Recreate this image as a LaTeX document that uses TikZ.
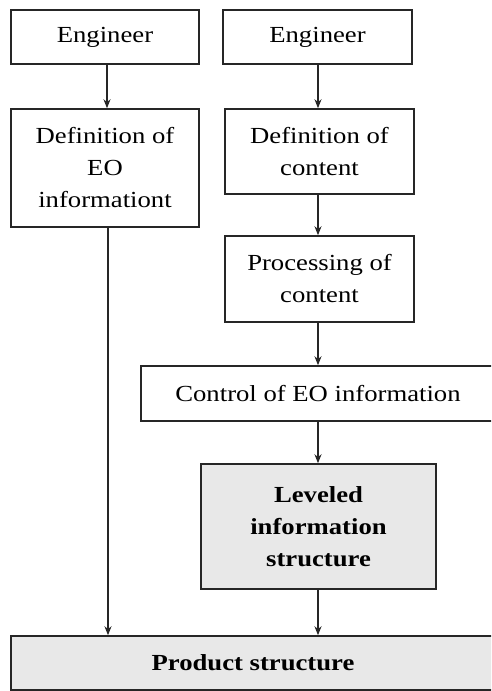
\documentclass[tikz,border=0pt]{standalone}
\usepackage{fontspec}
\setmainfont{Liberation Serif}[FakeStretch=1.16]
\usetikzlibrary{arrows.meta}
\tikzset{
  stepbox/.style={draw=black!85, line width=1.5pt, fill=white, align=center,
    inner sep=0pt, font=\fontsize{23}{32}\selectfont},
  shadedbox/.style={stepbox, fill=black!9, font=\fontsize{23}{32}\selectfont\bfseries},
  flow/.style={draw=black!85, line width=1.5pt, -{Stealth[length=9pt,width=7pt]}}
}
\begin{document}
\begin{tikzpicture}[x=1pt,y=-1pt]
\useasboundingbox (0,0) rectangle (491,691);
\clip (0,0) rectangle (491,691);

% left column
\node[stepbox, minimum width=188pt, minimum height=54pt] (engL) at (105,37) {Engineer};
\node[stepbox, minimum width=188pt, minimum height=118pt] (defEO) at (105,168)
  {Definition of\\EO\\informationt};

% right column
\node[stepbox, minimum width=189pt, minimum height=54pt] (engR) at (317.5,37) {Engineer};
\node[stepbox, minimum width=189pt, minimum height=85pt] (defC) at (319.5,151.5)
  {Definition of\\content};
\node[stepbox, minimum width=189pt, minimum height=86pt] (proc) at (319.5,279)
  {Processing of\\content};
\node[stepbox, minimum width=354pt, minimum height=55pt] (ctrl) at (318,393.5)
  {Control of EO information};
\node[shadedbox, minimum width=235pt, minimum height=125pt] (lev) at (318.5,526.5)
  {Leveled\\information\\structure};

% common target
\node[shadedbox, minimum width=484pt, minimum height=54pt] (prod) at (253,663)
  {Product structure};

% connectors, kept on whole-pixel columns
\draw[flow] ([xshift=2pt]engL.south) -- ([xshift=2pt]engL.south |- defEO.north);
\draw[flow] ([xshift=3pt]defEO.south) -- ([xshift=3pt]defEO.south |- prod.north);
\draw[flow] ([xshift=0.5pt]engR.south) -- ([xshift=0.5pt]engR.south |- defC.north);
\draw[flow] ([xshift=-1.5pt]defC.south) -- ([xshift=-1.5pt]defC.south |- proc.north);
\draw[flow] ([xshift=-1.5pt]proc.south) -- ([xshift=-1.5pt]proc.south |- ctrl.north);
\draw[flow] (ctrl.south) -- (ctrl.south |- lev.north);
\draw[flow] ([xshift=-0.5pt]lev.south) -- ([xshift=-0.5pt]lev.south |- prod.north);
\end{tikzpicture}
\end{document}
